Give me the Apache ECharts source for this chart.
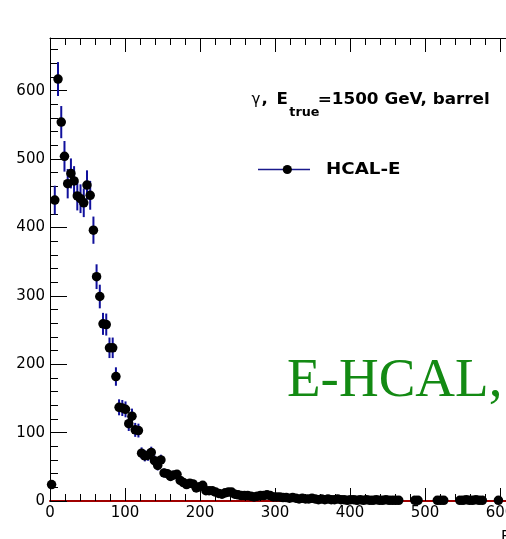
<!DOCTYPE html>
<html><head><meta charset="utf-8">
<script src="https://cdn.jsdelivr.net/npm/echarts@6/dist/echarts.min.js"></script>
<style>html,body{margin:0;padding:0;background:#fff;}#c{width:506px;height:539px;}</style>
</head><body><div id="c"></div>
<script>
// bin centres (GeV)
const binCenters = [
  2.1, 6.4, 10.7, 15.0, 19.3, 23.6, 27.9, 32.1, 36.4, 40.7,
  45.0, 49.3, 53.6, 57.9, 62.1, 66.4, 70.7, 75.0, 79.3, 83.6,
  87.9, 92.1, 96.4, 100.7, 105.0, 109.3, 113.6, 117.9, 122.1, 126.4,
  130.7, 135.0, 139.3, 143.6, 147.9, 152.1, 156.4, 160.7, 165.0, 169.3,
  173.6, 177.9, 182.1, 186.4, 190.7, 195.0, 199.3, 203.6, 207.9, 212.1,
  216.4, 220.7, 225.0, 229.3, 233.6, 237.9, 242.1, 246.4, 250.7, 255.0,
  259.3, 263.6, 267.9, 272.1, 276.4, 280.7, 285.0, 289.3, 293.6, 297.9,
  302.1, 306.4, 310.7, 315.0, 319.3, 323.6, 327.9, 332.1, 336.4, 340.7,
  345.0, 349.3, 353.6, 357.9, 362.1, 366.4, 370.7, 375.0, 379.3, 383.6,
  387.9, 392.1, 396.4, 400.7, 405.0, 409.3, 413.6, 417.9, 422.1, 426.4,
  430.7, 435.0, 439.3, 443.6, 447.9, 452.1, 456.4, 460.7, 465.0, 469.3,
  473.6, 477.9, 482.1, 486.4, 490.7, 495.0, 499.3, 503.6, 507.9, 512.1,
  516.4, 520.7, 525.0, 529.3, 533.6, 537.9, 542.1, 546.4, 550.7, 555.0,
  559.3, 563.6, 567.9, 572.1, 576.4, 580.7, 585.0, 589.3, 593.6, 597.9
];
// entries per bin (HCAL-E)
const counts = [
  24, 440, 617, 554, 504, 464, 479, 468, 446, 442,
  436, 462, 447, 396, 328, 299, 259, 258, 224, 224,
  182, 137, 136, 134, 113, 124, 104, 103, 70, 66,
  67, 71, 59, 52, 60, 41, 40, 36, 38, 39,
  30, 27, 24, 26, 25, 19, 21, 23, 15, 15,
  15, 13, 11, 10, 12, 13, 13, 10, 9, 8,
  8, 8, 7, 6, 7, 8, 8, 9, 8, 6,
  6, 6, 5, 5, 4, 5, 4, 3, 4, 3,
  3, 4, 3, 2, 3, 2, 3, 2, 2, 3,
  2, 2, 1, 2, 2, 1, 2, 1, 2, 1,
  1, 2, 1, 1, 2, 1, 1, 1, 1, 0,
  0, 0, 0, 1, 1, 0, 0, 0, 0, 0,
  1, 1, 1, 0, 0, 0, 0, 1, 1, 2,
  1, 1, 2, 1, 1, 0, 0, 0, 0, 1
];
// error bar half-lengths
const errors = [
  4.9, 21.0, 24.8, 23.5, 22.4, 21.5, 21.9, 21.6, 21.1, 21.0,
  20.9, 21.5, 21.1, 19.9, 18.1, 17.3, 16.1, 16.1, 15.0, 15.0,
  13.5, 11.7, 11.7, 11.6, 10.6, 11.1, 10.2, 10.1, 8.4, 8.1,
  8.2, 8.4, 7.7, 7.2, 7.7, 6.4, 6.3, 6.0, 6.2, 6.2,
  5.5, 5.2, 4.9, 5.1, 5.0, 4.4, 4.6, 4.8, 3.9, 3.9,
  3.9, 3.6, 3.3, 3.2, 3.5, 3.6, 3.6, 3.2, 3.0, 2.8,
  2.8, 2.8, 2.6, 2.4, 2.6, 2.8, 2.8, 3.0, 2.8, 2.4,
  2.4, 2.4, 2.2, 2.2, 2.0, 2.2, 2.0, 1.7, 2.0, 1.7,
  1.7, 2.0, 1.7, 1.4, 1.7, 1.4, 1.7, 1.4, 1.4, 1.7,
  1.4, 1.4, 1.0, 1.4, 1.4, 1.0, 1.4, 1.0, 1.4, 1.0,
  1.0, 1.4, 1.0, 1.0, 1.4, 1.0, 1.0, 1.0, 1.0, 0,
  0, 0, 0, 1.0, 1.0, 0, 0, 0, 0, 0,
  1.0, 1.0, 1.0, 0, 0, 0, 0, 1.0, 1.0, 1.4,
  1.0, 1.0, 1.4, 1.0, 1.0, 0, 0, 0, 0, 1.0
];
const seriesName = 'HCAL-E';
const titleParts = ['\u03b3', ',', 'E', 'true', '=1500 GeV, barrel'];
const overlayText = 'E-HCAL,';
const xAxisTitle = 'E';

const FONT = 'DejaVu Sans';
const X_MIN = 0, X_MAX = 640, Y_MIN = 0, Y_MAX = 677;

const points = [], bars = [];
binCenters.forEach(function (e, i) {
  if (counts[i] > 0) { points.push([e, counts[i]]); bars.push([e, counts[i], errors[i]]); }
});

const chart = echarts.init(document.getElementById('c'), null, { renderer: 'canvas' });
const noSplit = { show: false };
function hundredsOnly(v) { return v % 100 === 0 ? String(v) : ''; }
function xAx(pos, interval, tickLen, showLine, lineColor, showLabel) {
  return {
    type: 'value', position: pos, min: X_MIN, max: X_MAX, interval: interval,
    axisLine: { show: showLine, onZero: false, lineStyle: { color: lineColor, width: showLine && lineColor !== '#000' ? 2 : 1 } },
    axisTick: { show: true, inside: true, length: tickLen, lineStyle: { color: '#000', width: 1 } },
    axisLabel: { show: showLabel, margin: 5, fontFamily: FONT, fontSize: 15, color: '#000', formatter: hundredsOnly },
    splitLine: noSplit
  };
}
function yAx(interval, tickLen, main) {
  return {
    type: 'value', position: 'left', min: Y_MIN, max: Y_MAX, interval: interval,
    axisLine: { show: main, onZero: false, lineStyle: { color: '#000', width: 1 } },
    axisTick: { show: true, inside: true, length: tickLen, lineStyle: { color: '#000', width: 1 } },
    axisLabel: { show: main, margin: 5, fontFamily: FONT, fontSize: 15, color: '#000', formatter: hundredsOnly },
    splitLine: noSplit
  };
}

const option = {
  animation: false,
  backgroundColor: '#fff',
  grid: { left: 50, top: 38, right: -24, bottom: 38, containLabel: false, outerBoundsMode: 'none' },
  xAxis: [
    xAx('bottom', 100, 13, true, '#a00000', true),
    xAx('bottom', 20, 7, false, '#000', false),
    xAx('top', 100, 14, true, '#000', false),
    xAx('top', 20, 7, false, '#000', false)
  ],
  yAxis: [yAx(100, 17, true), yAx(20, 8, false)],
  series: [
    {
      type: 'custom', name: seriesName, xAxisIndex: 0, yAxisIndex: 0, data: bars, z: 2, silent: true,
      encode: { x: 0, y: 1 },
      renderItem: function (params, api) {
        const x = api.value(0), y = api.value(1), e = api.value(2);
        const p1 = api.coord([x, Math.max(Y_MIN, y - e)]);
        const p2 = api.coord([x, y + e]);
        return { type: 'line', shape: { x1: p1[0], y1: p1[1], x2: p2[0], y2: p2[1] },
                 style: { stroke: '#10109c', lineWidth: 2 } };
      }
    },
    {
      type: 'scatter', name: seriesName, xAxisIndex: 0, yAxisIndex: 0, data: points, z: 3, silent: true,
      symbol: 'circle', symbolSize: 9.5, itemStyle: { color: '#000', opacity: 1 }
    }
  ],
  graphic: [
    { type: 'text', x: 251.5, y: 99.7, style: { text: titleParts[0], font: 'normal 15px "' + FONT + '"', fill: '#000', verticalAlign: 'middle' } },
    { type: 'text', x: 261.5, y: 99.7, scaleX: 1.11, style: { text: titleParts[1], font: 'bold 15px "' + FONT + '"', fill: '#000', verticalAlign: 'middle' } },
    { type: 'text', x: 276.5, y: 99.7, scaleX: 1.11, style: { text: titleParts[2], font: 'bold 15px "' + FONT + '"', fill: '#000', verticalAlign: 'middle' } },
    { type: 'text', x: 289.3, y: 112.7, scaleX: 1.11, style: { text: titleParts[3], font: 'bold 11.5px "' + FONT + '"', fill: '#000', verticalAlign: 'middle' } },
    { type: 'text', x: 317.7, y: 99.7, scaleX: 1.12, style: { text: titleParts[4], font: 'bold 15px "' + FONT + '"', fill: '#000', verticalAlign: 'middle' } },
    { type: 'line', shape: { x1: 258, y1: 169.5, x2: 310, y2: 169.5 }, style: { stroke: '#1a1a8c', lineWidth: 1.5 } },
    { type: 'circle', shape: { cx: 287.3, cy: 169.5, r: 4.6 }, style: { fill: '#000' } },
    { type: 'text', x: 326, y: 169.5, scaleX: 1.14, style: { text: seriesName, font: 'bold 16px "' + FONT + '"', fill: '#000', verticalAlign: 'middle' } },
    { type: 'text', x: 287, y: 381.5, style: { text: overlayText, font: 'normal 55px "Liberation Serif"', fill: '#138a13', verticalAlign: 'middle' } },
    { type: 'text', x: 501, y: 538.5, style: { text: xAxisTitle, font: 'normal 15px "' + FONT + '"', fill: '#000', verticalAlign: 'middle' } }
  ]
};
chart.setOption(option);
</script></body></html>
